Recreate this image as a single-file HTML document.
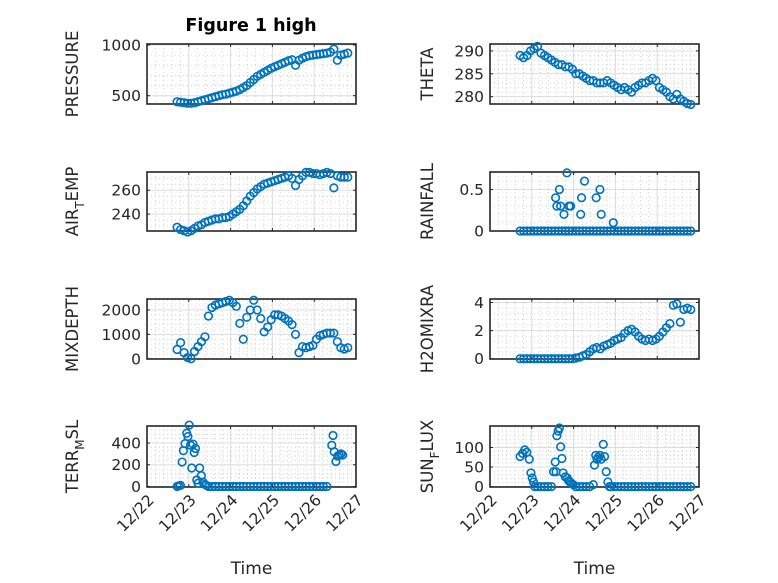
<!DOCTYPE html>
<html><head><meta charset="utf-8"><style>
html,body{margin:0;padding:0;background:#fff;}
svg{display:block;font-family:"DejaVu Sans","Liberation Sans",sans-serif;}
</style></head><body>
<svg id="fig" width="778" height="583" viewBox="0 0 778 583">
<rect width="778" height="583" fill="#fff"/>
<text x="251" y="31" text-anchor="middle" font-size="17.5" font-weight="bold" fill="#000">Figure 1 high</text>
<g id="plots"></g>
</svg>
<script>
// time axis: days after 12/22 00:00; main samples every 2 hours
const t0 = 0.72, dt = 1/12, N = 50;
const xTickLabels = ["12/22","12/23","12/24","12/25","12/26","12/27"];

const pressure = [440,435,430,425,425,430,440,450,460,470,480,490,500,510,515,525,535,545,560,580,600,630,660,690,710,730,750,770,785,800,815,830,845,855,800,850,870,885,895,900,905,910,915,920,930,960,850,900,910,920];
const airTemp = [229,227,226,225,226,228,230,231,233,234,235,236,236,237,237,238,240,242,244,247,251,255,258,261,263,265,266,267,268,269,270,271,272,270,264,269,272,275,275,274,274,273,274,275,274,262,272,271,271,271];
const theta = [289,288.5,289,290,290.5,291,289.5,289,288.5,288,287.5,287,287,286.5,286.5,286,285,285,284.5,284,283.5,283.5,283,283,283,283.5,283,282.5,282,281.5,282,281.5,281,282,282.5,283,283,283.5,284,283.5,282,281.5,281,280,279.5,280.5,279.5,279,278.5,278.3];
const rainfall = [0,0,0,0,0,0,0,0,0,0,0,0,0,0,0,0,0,0,0,0,0,0,0,0,0,0,0,0,0,0,0,0,0,0,0,0,0,0,0,0,0,0,0,0,0,0,0,0,0,0];
const rainEvT = [1.57,1.60,1.66,1.69,1.77,1.80,1.84,1.89,1.93,2.17,2.19,2.26,2.54,2.63,2.66,2.95];
const rainEvV = [0.4,0.3,0.5,0.3,0.2,0,0.7,0.3,0.3,0.2,0.4,0.6,0.4,0.5,0.2,0.1];
const mixDepth = [380,660,250,50,0,300,500,700,900,1750,2100,2200,2250,2300,2350,2400,2300,2150,1450,800,1700,2000,2400,2000,1650,1100,1300,1600,1800,1800,1750,1650,1550,1400,1000,250,500,450,500,550,800,950,1000,1050,1050,1050,700,450,400,450];
const h2oMix = [0,0,0,0,0,0,0,0,0,0,0,0,0,0,0,0,0.05,0.1,0.2,0.3,0.5,0.7,0.8,0.7,0.9,1.0,1.1,1.3,1.4,1.5,1.8,2.0,2.1,1.9,1.6,1.4,1.3,1.4,1.3,1.4,1.6,1.9,2.2,2.5,3.8,3.9,2.6,3.5,3.6,3.5];
const terrBase = [null,null,null,null,null,null,null,null,null,0,0,0,0,0,0,0,0,0,0,0,0,0,0,0,0,0,0,0,0,0,0,0,0,0,0,0,0,0,0,0,0,0,0,0,null,null,null,null,null,null];
const terrEvT = [0.72,0.76,0.80,0.84,0.87,0.91,0.95,0.98,1.01,1.04,1.07,1.10,1.13,1.16,1.19,1.22,1.26,1.30,1.34,1.38,1.42,4.42,4.45,4.48,4.52,4.56,4.60,4.64,4.68];
const terrEvV = [0,5,10,225,330,395,490,460,565,380,170,390,313,350,60,30,170,100,40,20,10,380,470,320,230,280,290,300,290];
const sunBase = [null,null,null,null,null,0,0,0,0,0,null,null,null,null,null,null,0,0,0,0,0,null,null,null,null,null,0,0,0,0,0,0,0,0,0,0,0,0,0,0,0,0,0,0,0,0,0,0,0,0];
const sunEvT = [0.72,0.78,0.83,0.88,0.94,0.98,1.01,1.04,1.07,1.52,1.56,1.58,1.60,1.63,1.66,1.69,1.72,1.75,1.80,1.85,1.88,1.91,1.95,1.99,2.47,2.50,2.53,2.56,2.59,2.63,2.66,2.71,2.74,2.78,2.82,2.86];
const sunEvV = [77,85,94,88,70,35,22,12,0,38,63,38,130,142,150,102,72,35,25,22,15,12,8,5,5,55,80,70,75,80,70,108,77,38,12,0];

const pressureTicks = [500,1000];
const airTicks = [240,260];
const thetaTicks = [280,285,290];
const rainTicks = [0,0.5];
const mixTicks = [0,1000,2000];
const h2oTicks = [0,2,4];
const terrTicks = [0,200,400];
const sunTicks = [0,50,100];

const NS = "http://www.w3.org/2000/svg";
const root = document.getElementById('plots');
function mk(tag, attrs, parent){const e=document.createElementNS(NS,tag);for(const k in attrs)e.setAttribute(k,attrs[k]);(parent||root).appendChild(e);return e;}

const COLS = [{x0:147,x1:356,lx:78},{x0:490,x1:699,lx:433}];
const ROWS = [{y0:44,y1:104},{y0:172,y1:231},{y0:299,y1:359},{y0:426,y1:487}];

const panels = [
 {name:'pressure',c:0,r:0,ylim:[418,1010],ticks:pressureTicks,minor:100,label:['PRESSURE'],base:pressure},
 {name:'theta',c:1,r:0,ylim:[278.4,291.5],ticks:thetaTicks,minor:1,label:['THETA'],base:theta},
 {name:'air-temp',c:0,r:1,ylim:[225.8,275.3],ticks:airTicks,minor:5,label:['AIR','T','EMP'],base:airTemp},
 {name:'rainfall',c:1,r:1,ylim:[0,0.71],ticks:rainTicks,minor:0.1,label:['RAINFALL'],base:rainfall,evT:rainEvT,evV:rainEvV},
 {name:'mixdepth',c:0,r:2,ylim:[-10,2450],ticks:mixTicks,minor:200,label:['MIXDEPTH'],base:mixDepth},
 {name:'h2omixra',c:1,r:2,ylim:[-0.02,4.25],ticks:h2oTicks,minor:0.4,label:['H2OMIXRA'],base:h2oMix},
 {name:'terr-msl',c:0,r:3,ylim:[-5,557],ticks:terrTicks,minor:40,label:['TERR','M','SL'],base:terrBase,evT:terrEvT,evV:terrEvV},
 {name:'sun-flux',c:1,r:3,ylim:[-1,155],ticks:sunTicks,minor:10,label:['SUN','F','LUX'],base:sunBase,evT:sunEvT,evV:sunEvV}
];

panels.forEach(p=>{
  const C=COLS[p.c], R=ROWS[p.r];
  const g=mk('g',{});
  
  
  const X=d=>C.x0+(d/5)*(C.x1-C.x0);
  const Y=v=>R.y1-(v-p.ylim[0])/(p.ylim[1]-p.ylim[0])*(R.y1-R.y0);
  mk('rect',{x:C.x0,y:R.y0,width:C.x1-C.x0,height:R.y1-R.y0,fill:'#fff'},g);
  for(let d=0.2; d<5; d+=0.2){ if(Math.abs(d-Math.round(d))<1e-6) continue;
    mk('line',{x1:X(d),x2:X(d),y1:R.y0,y2:R.y1,stroke:'#c8c8c8','stroke-width':0.8,'stroke-dasharray':'1 3'},g);}
  const m0=Math.ceil(p.ylim[0]/p.minor);
  for(let k=m0; k*p.minor<=p.ylim[1]; k++){ const v=k*p.minor;
    if(p.ticks.some(t=>Math.abs(t-v)<1e-9)) continue;
    mk('line',{x1:C.x0,x2:C.x1,y1:Y(v),y2:Y(v),stroke:'#c8c8c8','stroke-width':0.8,'stroke-dasharray':'1 3'},g);}
  for(let d=1; d<5; d++) mk('line',{x1:X(d),x2:X(d),y1:R.y0,y2:R.y1,stroke:'#dcdcdc','stroke-width':1},g);
  p.ticks.forEach(v=>mk('line',{x1:C.x0,x2:C.x1,y1:Y(v),y2:Y(v),stroke:'#dcdcdc','stroke-width':1},g));
  mk('rect',{x:C.x0,y:R.y0,width:C.x1-C.x0,height:R.y1-R.y0,fill:'none',stroke:'#262626','stroke-width':1.6},g);
  for(let d=0; d<=5; d++){ mk('line',{x1:X(d),x2:X(d),y1:R.y1,y2:R.y1-3,stroke:'#262626'},g); mk('line',{x1:X(d),x2:X(d),y1:R.y0,y2:R.y0+3,stroke:'#262626'},g);}
  p.ticks.forEach(v=>{
    mk('line',{x1:C.x0,x2:C.x0+3,y1:Y(v),y2:Y(v),stroke:'#262626'},g);
    mk('line',{x1:C.x1,x2:C.x1-3,y1:Y(v),y2:Y(v),stroke:'#262626'},g);
    const t=mk('text',{x:C.x0-6,y:Y(v)+5.5,'text-anchor':'end','font-size':15.5,fill:'#262626'},g);
    
    
    t.textContent=String(v);
  });
  const cy=(R.y0+R.y1)/2;
  const lbl=mk('text',{x:0,y:0,'text-anchor':'middle','font-size':16.5,fill:'#262626',transform:`translate(${C.lx},${cy}) rotate(-90)`},g);
  
  
  if(p.label.length===1){ lbl.textContent=p.label[0]; }
  else{
    const a=mk('tspan',{},lbl); a.textContent=p.label[0];
    const b=mk('tspan',{dy:6,'font-size':12},lbl); b.textContent=p.label[1];
    const c=mk('tspan',{dy:-6},lbl); c.textContent=p.label[2];
  }
  const pts=[];
  p.base.forEach((v,i)=>{ if(v!==null) pts.push([t0+i*dt,v]); });
  if(p.evT) p.evT.forEach((tt,i)=>pts.push([tt,p.evV[i]]));
  pts.forEach(q=>{
    const c=mk('circle',{cx:X(q[0]).toFixed(2),cy:Y(q[1]).toFixed(2),r:3.8,fill:'none',stroke:'#0072BD','stroke-width':1.6},g);
    
    
  });
  if(p.r===3){
    xTickLabels.forEach((s,d)=>{
      const t=mk('text',{x:0,y:0,'text-anchor':'end','font-size':15.5,fill:'#262626',transform:`translate(${X(d)+8},${R.y1+14}) rotate(-45)`},g);
      
      
      t.textContent=s;
    });
    const xl=mk('text',{x:(C.x0+C.x1)/2,y:574,'text-anchor':'middle','font-size':17,fill:'#262626'},g);
    
    
    xl.textContent='Time';
  }
});
</script>
</body></html>
